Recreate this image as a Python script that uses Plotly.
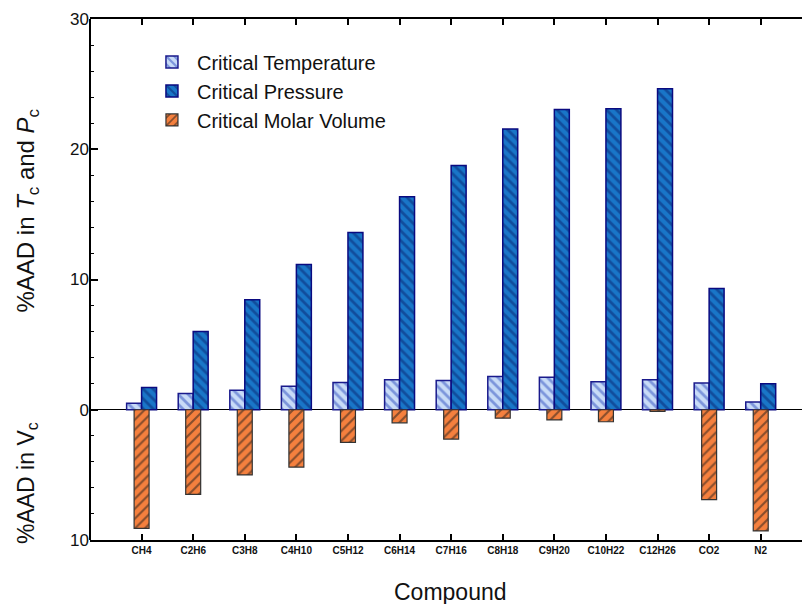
import plotly.graph_objects as go

compounds = ["CH4", "C2H6", "C3H8", "C4H10", "C5H12", "C6H14", "C7H16",
             "C8H18", "C9H20", "C10H22", "C12H26", "CO2", "N2"]
tc_aad = [0.5, 1.25, 1.5, 1.8, 2.1, 2.3, 2.25, 2.55, 2.5, 2.15, 2.3, 2.05, 0.6]
pc_aad = [1.7, 6.0, 8.45, 11.15, 13.6, 16.35, 18.75, 21.55, 23.05, 23.1, 24.65, 9.3, 2.0]
vc_aad = [9.1, 6.5, 5.0, 4.4, 2.5, 1.0, 2.25, 0.65, 0.78, 0.92, 0.12, 6.9, 9.3]

ytick_vals = [-10, 0, 10, 20, 30]
ytick_text = ["10", "0", "10", "20", "30"]

xpos = list(range(1, len(compounds) + 1))
w = 0.29
FONT = "Arial, Liberation Sans"

fig = go.Figure()
fig.add_trace(go.Bar(
    x=xpos, y=tc_aad, name="Critical Temperature", width=w, offset=-w,
    marker=dict(color="#c8dbf7", line=dict(color="#1a1a8c", width=1.5),
                pattern=dict(shape="\\", fgcolor="#3050c0", size=7, solidity=0.4)),
))
fig.add_trace(go.Bar(
    x=xpos, y=pc_aad, name="Critical Pressure", width=w, offset=0,
    marker=dict(color="#1976c8", line=dict(color="#0a0a80", width=1.5),
                pattern=dict(shape="\\", fgcolor="#0a2470", size=7, solidity=0.4)),
))
fig.add_trace(go.Bar(
    x=xpos, y=[-v for v in vc_aad], name="Critical Molar Volume", width=w, offset=-w / 2,
    marker=dict(color="#f5803e", line=dict(color="#333333", width=1.2),
                pattern=dict(shape="/", fgcolor="#1a1a1a", size=7, solidity=0.3)),
))

fig.update_layout(
    width=802, height=604,
    margin=dict(l=90, r=0, t=19, b=64),
    paper_bgcolor="white", plot_bgcolor="white",
    barmode="overlay",
    showlegend=True,
    legend=dict(x=0.08, y=0.955, xanchor="left", yanchor="top",
                font=dict(family=FONT, size=20, color="#111"),
                bgcolor="rgba(0,0,0,0)", itemwidth=40),
    font=dict(family=FONT, color="#111"),
)
fig.update_xaxes(
    range=[0, 13.8], tickvals=xpos, ticktext=compounds,
    tickfont=dict(family=FONT, size=10, color="#111", weight="bold"),
    ticks="inside", ticklen=6, tickwidth=1.5, tickcolor="black",
    showline=True, linewidth=2, linecolor="black", mirror="ticks",
    showgrid=False, zeroline=False,
)
fig.update_yaxes(
    range=[-10, 30], tickvals=ytick_vals, ticktext=ytick_text,
    tickfont=dict(family=FONT, size=17, color="#111"),
    ticks="inside", ticklen=8, tickwidth=1.5, tickcolor="black",
    minor=dict(dtick=2, ticks="inside", ticklen=4, tickwidth=1, tickcolor="black", showgrid=False),
    showline=False, mirror=False,
    showgrid=False, zeroline=True, zerolinecolor="black", zerolinewidth=1.2,
)
# left axis spine
fig.add_shape(type="line", xref="paper", yref="paper", x0=0, x1=0, y0=0, y1=1,
              line=dict(color="black", width=2), layer="above")

fig.add_annotation(
    text="%AAD in <i>T</i><sub>c</sub> and <i>P</i><sub>c</sub>",
    xref="paper", yref="paper", x=-0.088, y=0.633, xanchor="center", yanchor="middle",
    textangle=-90, showarrow=False, font=dict(family=FONT, size=24, color="#111"),
)
fig.add_annotation(
    text="%AAD in V<sub>c</sub>",
    xref="paper", yref="paper", x=-0.088, y=0.11, xanchor="center", yanchor="middle",
    textangle=-90, showarrow=False, font=dict(family=FONT, size=23, color="#111"),
)
fig.add_annotation(
    text="Compound",
    xref="paper", yref="paper", x=0.506, y=-0.1, xanchor="center", yanchor="middle",
    showarrow=False, font=dict(family=FONT, size=23, color="#111"),
)

fig.write_html("out.html")
